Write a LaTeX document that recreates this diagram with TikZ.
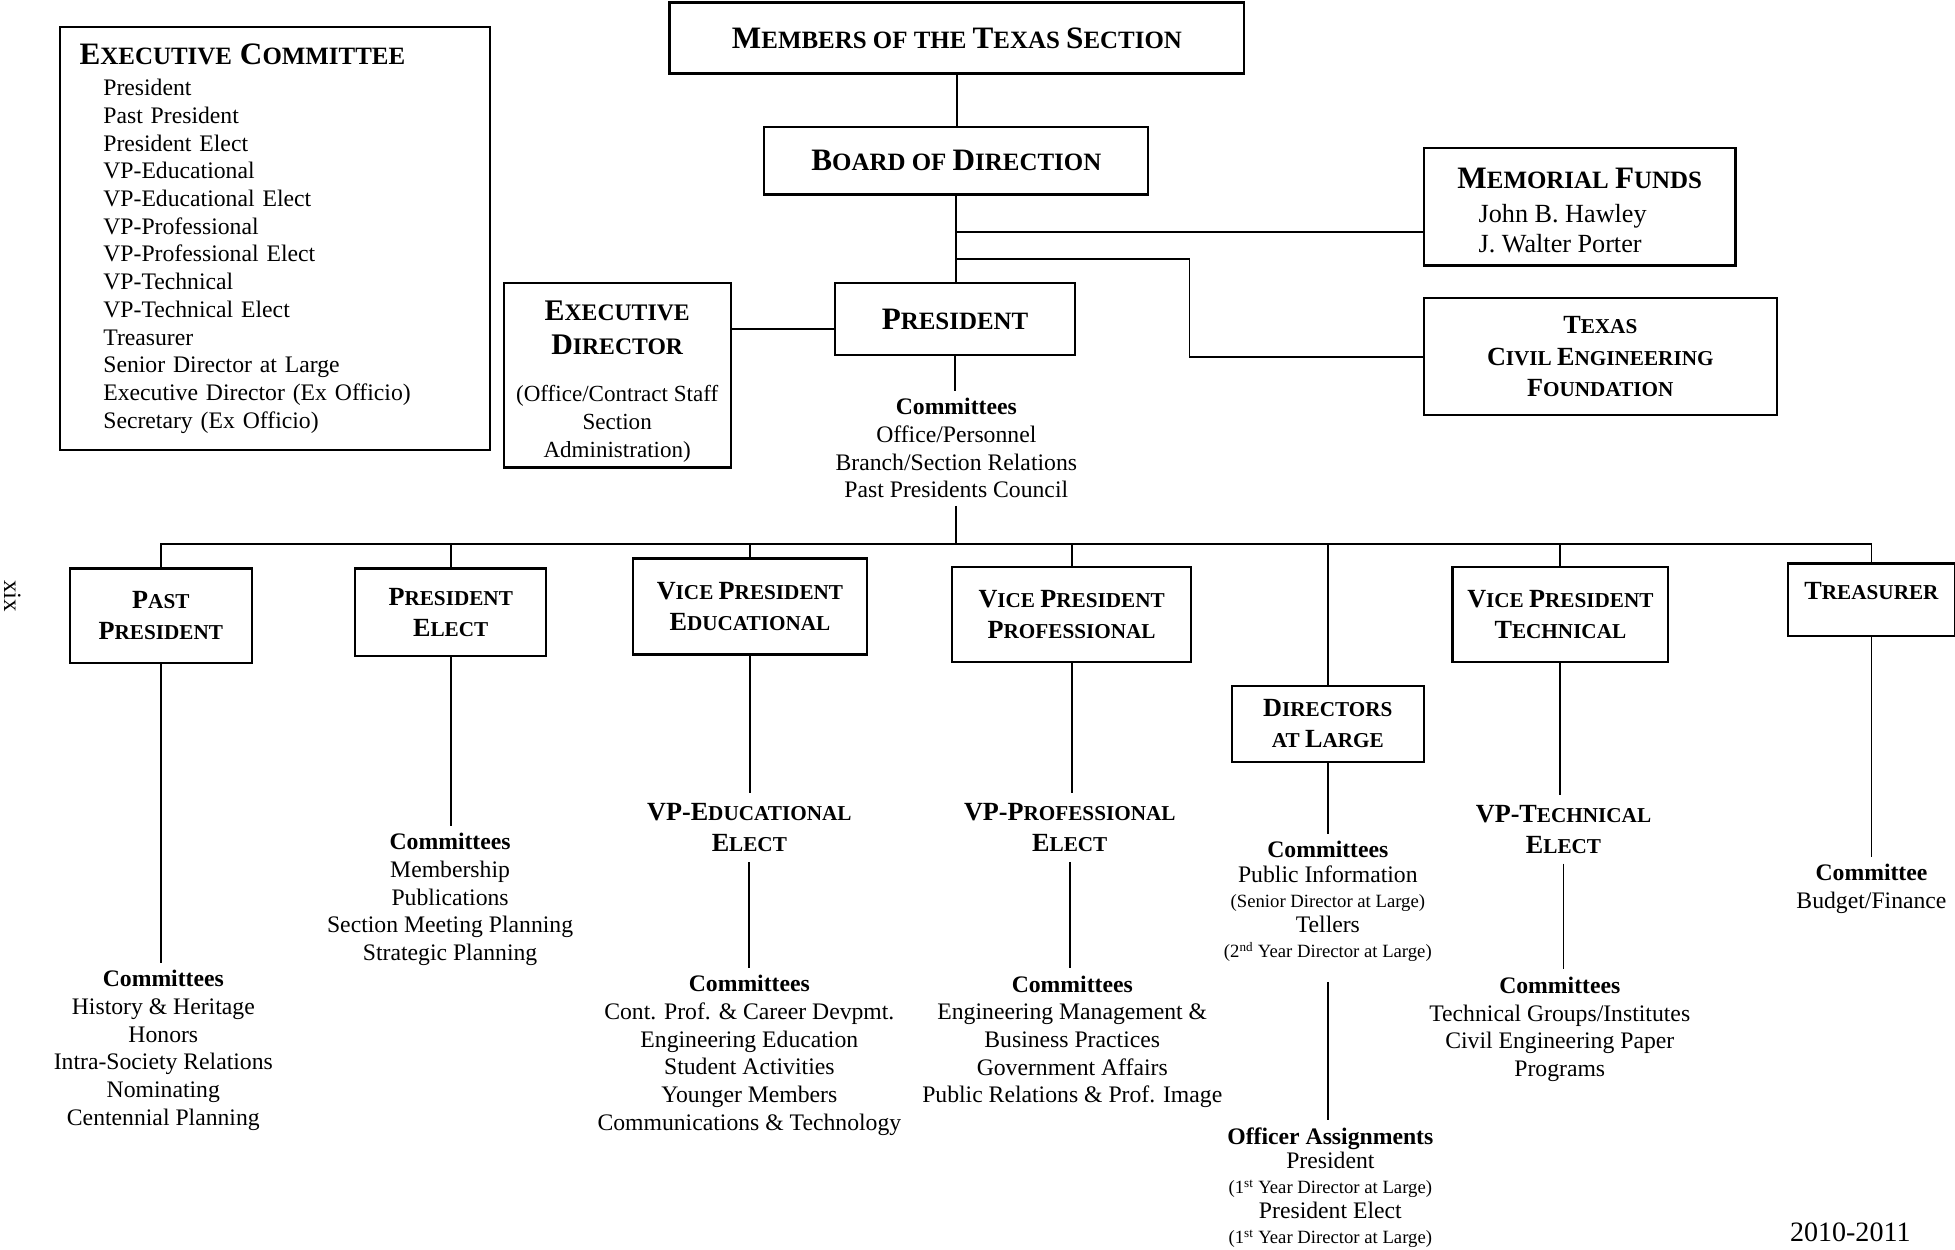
\documentclass[tikz,border=0pt]{standalone}
\usepackage{fontspec}
\setmainfont{Liberation Serif}
\usetikzlibrary{positioning,calc}

\def\capsize{25}
\newcommand\BigL[1]{{\fontsize{\capsize}{0pt}\selectfont #1}}
\newcommand\HeadTxt[3]{{\bfseries\def\capsize{#2}\fontsize{#1}{0pt}\selectfont #3}}
\newcommand\NoteSz[1]{{\fontsize{15}{18}\selectfont #1}}

\begin{document}
\begin{tikzpicture}[x=1pt,y=-1pt,
	orgbox/.style={draw,line width=1.8pt,align=center,inner sep=2pt},
	headA/.style={font=\bfseries\def\capsize{25}\fontsize{20}{26}\selectfont},
	headB/.style={font=\bfseries\def\capsize{21}\fontsize{17}{25}\selectfont},
	elect/.style={headB,align=center,inner ysep=8pt},
	notes/.style={align=center,inner sep=6pt,font=\fontsize{19}{22.2}\selectfont},
	link/.style={line width=1.5pt}]
	\useasboundingbox (0,0) rectangle (1568,1002);

	\node[orgbox,anchor=north west,minimum width=345pt,minimum height=339pt,align=left,text width=313pt,inner xsep=16pt,font=\fontsize{19}{22.2}\selectfont] (excom) at (47,21)
		{\HeadTxt{20}{25}{\BigL{E}XECUTIVE \BigL{C}OMMITTEE}\\[2.8pt]
		\hspace*{19pt}President\\
		\hspace*{19pt}Past President\\
		\hspace*{19pt}President Elect\\
		\hspace*{19pt}VP-Educational\\
		\hspace*{19pt}VP-Educational Elect\\
		\hspace*{19pt}VP-Professional\\
		\hspace*{19pt}VP-Professional Elect\\
		\hspace*{19pt}VP-Technical\\
		\hspace*{19pt}VP-Technical Elect\\
		\hspace*{19pt}Treasurer\\
		\hspace*{19pt}Senior Director at Large\\
		\hspace*{19pt}Executive Director (Ex Officio)\\
		\hspace*{19pt}Secretary (Ex Officio)};

	\node[orgbox,headA,minimum width=461pt,minimum height=57pt] (members) at (767.5,30.5) {\BigL{M}EMBERS OF THE \BigL{T}EXAS \BigL{S}ECTION};
	\node[orgbox,headA,minimum width=308pt,minimum height=54pt] (board) at (767,129) {\BigL{B}OARD OF \BigL{D}IRECTION};
	\node[orgbox,minimum width=250pt,minimum height=94pt,align=left,font=\fontsize{21}{24}\selectfont] (funds) at (1267,166)
		{\rule{0pt}{22pt}\HeadTxt{20}{25}{\BigL{M}EMORIAL \BigL{F}UNDS}\\[3pt]\hspace*{17pt}John B. Hawley\\\hspace*{17pt}J. Walter Porter};
	\node[orgbox,headB,minimum width=283pt,minimum height=94pt] (tcef) at (1283.5,286) {\BigL{T}EXAS\\\BigL{C}IVIL \BigL{E}NGINEERING\\\BigL{F}OUNDATION};
	\node[orgbox,headA,minimum width=192pt,minimum height=58pt] (pres) at (766,256) {\BigL{P}RESIDENT};
	\node[orgbox,minimum width=182pt,minimum height=148pt,font=\fontsize{18.5}{22.5}\selectfont] (exdir) at (495,301)
		{\rule{0pt}{26pt}\HeadTxt{19}{24}{\BigL{E}XECUTIVE}\\[4.5pt]\HeadTxt{19}{24}{\BigL{D}IRECTOR}\\[15.5pt](Office/Contract Staff\\Section\\Administration)};
	\node[notes] (prescom) at (767,359.5) {\textbf{Committees}\\Office/Personnel\\Branch/Section Relations\\Past Presidents Council};

	\node[orgbox,headB,minimum width=146pt,minimum height=76pt] (pastpres) at (129,494) {\BigL{P}AST\\\BigL{P}RESIDENT};
	\node[orgbox,headB,minimum width=153pt,minimum height=70pt] (preselect) at (361.5,491) {\BigL{P}RESIDENT\\\BigL{E}LECT};
	\node[orgbox,headB,minimum width=188pt,minimum height=77pt] (vpedu) at (601.5,486.5) {\BigL{V}ICE \BigL{P}RESIDENT\\\BigL{E}DUCATIONAL};
	\node[orgbox,headB,minimum width=192pt,minimum height=76pt] (vpprof) at (859.5,493) {\BigL{V}ICE \BigL{P}RESIDENT\\\BigL{P}ROFESSIONAL};
	\node[orgbox,headB,minimum width=154pt,minimum height=61pt] (dirs) at (1065,580.5) {\BigL{D}IRECTORS\\AT \BigL{L}ARGE};
	\node[orgbox,headB,minimum width=173pt,minimum height=76pt] (vptech) at (1251.5,493) {\BigL{V}ICE \BigL{P}RESIDENT\\\BigL{T}ECHNICAL};
	\node[orgbox,headB,minimum width=134pt,minimum height=58pt] (treas) at (1501,481) {\rule[-14pt]{0pt}{14pt}\BigL{T}REASURER};

	\node[notes] (pastcom) at (131,842.5) {\textbf{Committees}\\History \& Heritage\\Honors\\Intra-Society Relations\\Nominating\\Centennial Planning};
	\node[notes] (electcom) at (361,721.5) {\textbf{Committees}\\Membership\\Publications\\Section Meeting Planning\\Strategic Planning};
	\node[elect] (eduelect) at (601,664) {\BigL{VP-E}DUCATIONAL\\\BigL{E}LECT};
	\node[notes] (educom) at (601,846.5) {\textbf{Committees}\\Cont. Prof. \& Career Devpmt.\\Engineering Education\\Student Activities\\Younger Members\\Communications \& Technology};
	\node[elect] (profelect) at (858,663.5) {\BigL{VP-P}ROFESSIONAL\\\BigL{E}LECT};
	\node[notes] (profcom) at (860,835.5) {\textbf{Committees}\\Engineering Management \&\\Business Practices\\Government Affairs\\Public Relations \& Prof. Image};
	\node[notes,font=\fontsize{19}{20}\selectfont] (dircom) at (1065,723)
		{\textbf{Committees}\\Public Information\\\NoteSz{(Senior Director at Large)}\\Tellers\\\NoteSz{(2\textsuperscript{nd} Year Director at Large)}};
	\node[notes,font=\fontsize{19}{20}\selectfont] (dirofc) at (1067,952.5)
		{\textbf{Officer Assignments}\\President\\\NoteSz{(1\textsuperscript{st} Year Director at Large)}\\President Elect\\\NoteSz{(1\textsuperscript{st} Year Director at Large)}};
	\node[elect] (techelect) at (1254,665) {\BigL{VP-T}ECHNICAL\\\BigL{E}LECT};
	\node[notes] (techcom) at (1251,825.5) {\textbf{Committees}\\Technical Groups/Institutes\\Civil Engineering Paper\\Programs};
	\node[notes] (treascom) at (1501,713) {\textbf{Committee}\\Budget/Finance};

	\node[font=\fontsize{22.5}{27}\selectfont] (year) at (1484,988) {2010-2011};
	\node[rotate=-90,font=\fontsize{20}{24}\selectfont] (pageno) at (10,478) {xix};

	\coordinate (fundsjoin) at (767,186);
	\coordinate (tcefjoin) at (767,208);
	\coordinate (exdirjoin) at (628,264);
	\coordinate (bus) at (767,436);

	\draw[link] (members.south) -- (members.south |- board.north);
	\draw[link] (board.south) -- (board.south |- pres.north);
	\draw[link] (fundsjoin) -- (fundsjoin -| funds.west);
	\draw[link] (tcefjoin) -- ++(187,0) |- (tcef.west);
	\draw[link] (exdir.east |- exdirjoin) -- (pres.west |- exdirjoin);
	\draw[link] (pres.south) -- (pres.south |- prescom.north);
	\draw[link] (prescom.south) -- (prescom.south |- bus);
	\draw[link] (pastpres.north) -- (pastpres.north |- bus) -- (treas.north |- bus) -- (treas.north);
	\foreach \bx in {preselect,vpedu,vpprof,dirs,vptech}
		\draw[link] (\bx.north) -- (\bx.north |- bus);
	\foreach \bx/\cx in {pastpres/pastcom,preselect/electcom,vpedu/eduelect,eduelect/educom,vpprof/profelect,profelect/profcom,dirs/dircom,vptech/techelect,techelect/techcom,treas/treascom}
		\draw[link] (\bx.south) -- (\bx.south |- \cx.north);
	\draw[link,shorten <=10pt] (dircom.south) -- (dircom.south |- dirofc.north);
\end{tikzpicture}
\end{document}
